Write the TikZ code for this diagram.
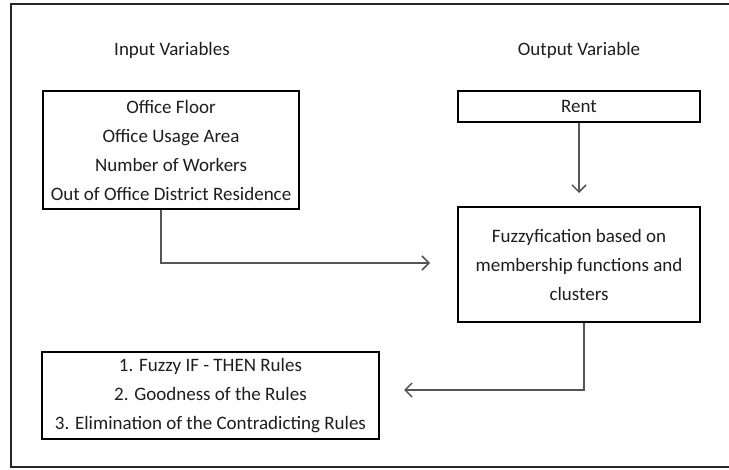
\documentclass[tikz,border=0pt]{standalone}
\usepackage{fontspec}
\setmainfont{Carlito}
\usetikzlibrary{arrows.meta}
\definecolor{txt}{HTML}{1E1E1E}
\definecolor{lnk}{HTML}{555555}
\tikzset{
  box/.style={draw=black, line width=2.8pt, align=center, inner sep=0pt, text=txt,
    font=\fontsize{19}{29}\selectfont},
  lbl/.style={text=txt, font=\fontsize{19}{29}\selectfont, inner sep=0pt},
  arr/.style={draw=lnk, line width=1.5pt, -{Straight Barb[length=7pt,width=14pt,line width=1.5pt]}},
  link/.style={draw=lnk, line width=1.5pt}
}
\begin{document}
\begin{tikzpicture}[x=1pt,y=-1pt]
\useasboundingbox (0,0) rectangle (729,470);
\fill[white] (0,0) rectangle (729,470);
% outer frame (right side cropped)
\draw[line width=2pt, draw=black!85] (729,4) -- (11,4) -- (11,467) -- (729,467);

\node[lbl] (hin) at (172,50) {Input Variables};
\node[lbl] (hout) at (579,50) {Output Variable};

\node[box, minimum width=256pt, minimum height=118pt] (in) at (171,150)
  {Office Floor\\Office Usage Area\\Number of Workers\\Out of Office District Residence};
\node[box, minimum width=242pt, minimum height=31pt] (rent) at (579,106.5) {Rent};
\node[box, minimum width=242pt, minimum height=115pt] (fz) at (579,264.5)
  {\rule{0pt}{0pt}\raisebox{0pt}{}Fuzzyfication based on\\membership functions and\\clusters};
\node[box, minimum width=337pt, minimum height=87pt] (rules) at (210.5,395.5)
  {1. Fuzzy IF - THEN Rules\\2. Goodness of the Rules\\3. Elimination of the Contradicting Rules};

\coordinate (a1) at (430,263);
\coordinate (a2) at (404,390);
\coordinate (a3) at (579,193);

\draw[arr] ([xshift=-10pt]in.south) |- (a1);
\draw[arr] (rent.south) -- (a3);
\draw[arr] ([xshift=5pt]fz.south) |- (a2);
\end{tikzpicture}
\end{document}
